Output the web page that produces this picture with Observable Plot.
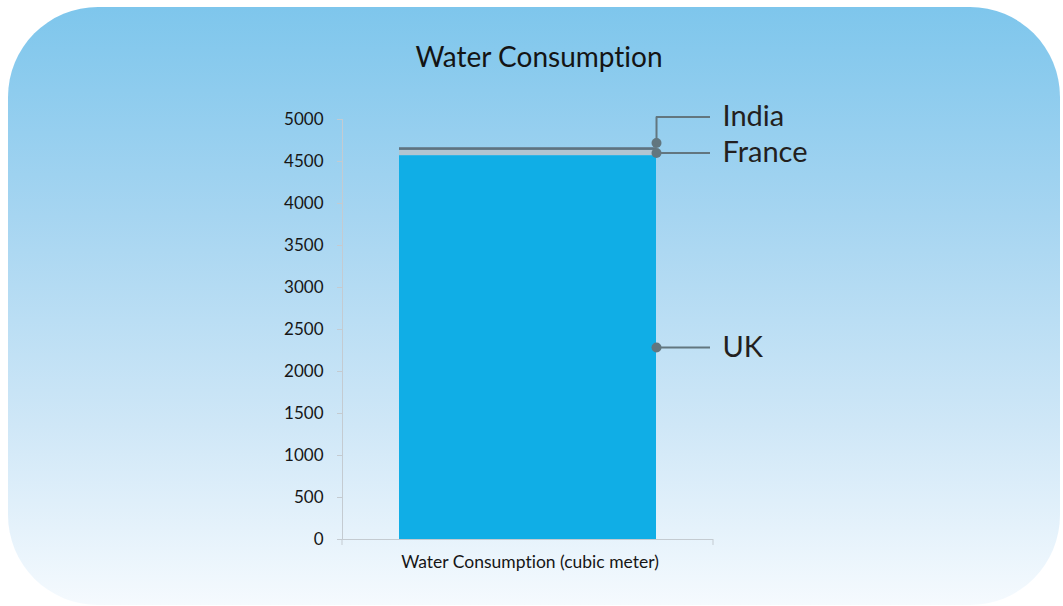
<!DOCTYPE html>
<html>
<head>
<meta charset="utf-8">
<script src="https://cdn.jsdelivr.net/npm/d3@7"></script>
<script src="https://cdn.jsdelivr.net/npm/@observablehq/plot@0.6"></script>
<style>
  html, body { margin: 0; padding: 0; background: #ffffff; }
  #wrap { position: relative; width: 1063px; height: 606px; overflow: hidden; font-family: Lato, "Open Sans", sans-serif; }
  #bg { position: absolute; left: 8px; top: 7px; width: 1052px; height: 598px; border-radius: 90px;
        background: linear-gradient(to bottom, #7ec6ec 0%, #a6d5f1 35%, #cfe7f7 70%, #f5fafe 100%); }
  #chart { position: absolute; left: 0; top: 0; }
  #chart svg text { font-variant-ligatures: none; }
</style>
</head>
<body>
<div id="wrap"><div id="bg"></div><div id="chart"></div></div>
<script>
// ---- data ----
const title = "Water Consumption";
const category = "Water Consumption (cubic meter)";
const countries = ["UK", "France", "India"];
const values = [4570, 62, 32];
const colors = ["#10aee6", "#b1c5d1", "#5f7380"];
const yTicks = [0, 500, 1000, 1500, 2000, 2500, 3000, 3500, 4000, 4500, 5000];

// table built from arrays (stacked midpoints for label anchors)
let acc = 0;
const data = countries.map((c, i) => {
  const y1 = acc; acc += values[i];
  return {cat: category, country: c, value: values[i], mid: (y1 + acc) / 2};
});
const lifted = data.filter(d => d.country === "India");
const plain = data.filter(d => d.country !== "India");

// layout
const W = 1063, H = 606;
const mL = 342, mR = 350, mT = 119, mB = 67;
const pad = 0.1815;
const bw = (W - mL - mR) * (1 - pad) / (1 + pad);
const lead = 54;       // connector length
const lift = -6, labLift = -32, labGap = 12;
const ink = "#62767f";

const plot = Plot.plot({
  width: W, height: H,
  marginLeft: mL, marginRight: mR, marginTop: mT, marginBottom: mB,
  style: {background: "transparent", fontFamily: "Lato, 'Open Sans', sans-serif", overflow: "visible"},
  x: {type: "band", domain: [category], padding: pad, label: null},
  y: {domain: [0, 5000], label: null},
  color: {domain: countries, range: colors},
  marks: [
    Plot.text([title], {frameAnchor: "top", dx: 11, dy: -61, fontSize: 28, fill: "#141414", lineAnchor: "middle"}),
    Plot.axisY({ticks: yTicks, tickFormat: d => String(d), tickSize: 5, tickPadding: 14, fontSize: 17, stroke: "#c4cbd1", fill: "#161616", label: null}),
    Plot.frame({anchor: "left", stroke: "#c4cbd1"}),
    Plot.ruleY([0], {stroke: "#c4cbd1"}),
    Plot.axisX({tickSize: 0, tickPadding: 16, fontSize: 17.5, fill: "#161616", label: null, dx: 2}),
    Plot.barY(data, {x: "cat", y: "value", fill: "country"}),
    // plain labels
    Plot.tickY(plain, {x: "cat", y: "mid", dx: bw, insetRight: bw - lead, stroke: ink, strokeWidth: 2}),
    Plot.dot(plain, {x: "cat", y: "mid", dx: bw / 2, r: 5, fill: ink}),
    Plot.text(plain, {x: "cat", y: "mid", text: "country", dx: bw / 2 + lead + labGap, textAnchor: "start", fontSize: 29, fill: "#231f20"}),
    // lifted label (India)
    Plot.ruleX(lifted, {x: "cat", y1: "mid", y2: "mid", dx: bw / 2, dy: lift, insetTop: labLift - lift, stroke: ink, strokeWidth: 2}),
    Plot.tickY(lifted, {x: "cat", y: "mid", dx: bw, dy: labLift, insetRight: bw - lead, stroke: ink, strokeWidth: 2}),
    Plot.dot(lifted, {x: "cat", y: "mid", dx: bw / 2, dy: lift, r: 5, fill: ink}),
    Plot.text(lifted, {x: "cat", y: "mid", text: "country", dx: bw / 2 + lead + labGap, dy: labLift, textAnchor: "start", fontSize: 29, fill: "#231f20"})
  ]
});
document.getElementById("chart").appendChild(plot);

// small end ticks of the x axis line, placed with the plot's own scales
const xs = plot.scale("x").range, y0 = plot.scale("y").apply(0);
d3.select(plot).append("g").selectAll("line").data(xs).join("line")
  .attr("x1", d => d).attr("x2", d => d).attr("y1", y0).attr("y2", y0 + 6)
  .attr("stroke", "#c4cbd1");
</script>
</body>
</html>
